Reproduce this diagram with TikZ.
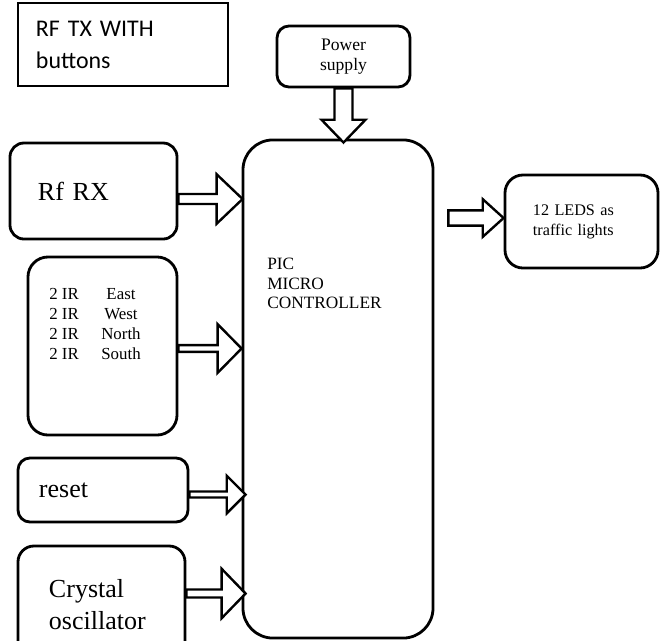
\documentclass[tikz,border=0pt]{standalone}
\usepackage{fontspec}
\setmainfont{Liberation Serif}
\newfontfamily\titlefont{Carlito}
\usetikzlibrary{calc}

\begin{document}
\begin{tikzpicture}[x=0.025cm, y=-0.025cm,
        box/.style={draw, rectangle, line width=2pt, rounded corners=#1},
        box/.default=0.35cm,
        block/.style n args={3}{draw, fill=white, line width=1.7pt, to path={
            let \p1=(\tikztostart), \p2=(\tikztotarget), \p3=($(\p2)!#3!(\p1)$) in
            ($(\p1)!#1!90:(\p2)$) -- ($(\p3)!#1!90:(\p2)$) -- ($(\p3)!#2!90:(\p2)$) -- (\p2)
            -- ($(\p3)!#2!-90:(\p2)$) -- ($(\p3)!#1!-90:(\p2)$) -- ($(\p1)!#1!-90:(\p2)$) -- cycle}}]
        \clip (0,0) rectangle (661,640);
        % Define the nodes for the blocks
        \node[draw, rectangle, line width=0.8pt, minimum width=5.25cm, minimum height=2.075cm,
              text width=4.35cm, align=left, font=\titlefont\fontsize{17pt}{22.8pt}\selectfont]
              (title) at (123,44.5) {RF TX WITH\\buttons};
        \node[box=0.3cm, minimum width=3.325cm, minimum height=1.525cm, align=center,
              font=\fontsize{12.5pt}{14.2pt}\selectfont] (power) at (343.5,56.5) {Power\\supply};
        \node[box=0.75cm, minimum width=4.75cm, minimum height=12.45cm] (ctrl) at (338,389) {};
        \node[anchor=north west, inner sep=0pt, align=left,
              font=\fontsize{12.3pt}{13.9pt}\selectfont] (ctrltext) at (267,258) {PIC\\MICRO\\CONTROLLER};
        \node[box, minimum width=4.175cm, minimum height=2.4cm, text width=2.775cm, align=left,
              font=\fontsize{18.5pt}{22pt}\selectfont] (rf) at (93.5,191) {Rf RX};
        \node[box=0.5cm, minimum width=3.725cm, minimum height=4.45cm] (ir) at (102.5,346) {};
        \node[anchor=north west, inner sep=0pt, font=\fontsize{12pt}{14.2pt}\selectfont]
              (irtext) at (49,285) {\begin{tabular}{@{}l@{\hspace{16pt}}c@{}}
              2 IR & East\\ 2 IR & West\\ 2 IR & North\\ 2 IR & South\end{tabular}};
        \node[box=0.3cm, minimum width=4.25cm, minimum height=1.6cm, text width=3.2cm, align=left,
              font=\fontsize{18.5pt}{22pt}\selectfont] (reset) at (103,490) {reset};
        \node[box=0.4cm, minimum width=4.175cm, minimum height=2.95cm, text width=2.625cm, align=left,
              font=\fontsize{18.5pt}{22.8pt}\selectfont] (xtal) at (101.5,605) {Crystal\\oscillator};
        \node[box=0.45cm, minimum width=3.825cm, minimum height=2.325cm, text width=2.425cm, align=left,
              font=\fontsize{11.5pt}{14.2pt}\selectfont] (led) at (581.5,221.5) {12 LEDS as\\traffic lights};
        % Connect the blocks with block arrows
        \draw[block={0.225cm}{0.55cm}{0.57cm}] (power.south) to ($(power.south |- ctrl.north)+(0,4)$);
        \draw[block={0.125cm}{0.62cm}{0.65cm}] ($(rf.east)+(0,8)$) to ($(ctrl.west |- rf.east)+(1,8)$);
        \draw[block={0.085cm}{0.61cm}{0.6cm}] ($(ir.east)+(0,2.5)$) to ($(ctrl.west |- ir.east)+(0,2.5)$);
        \draw[block={0.075cm}{0.47cm}{0.47cm}] ($(reset.east)+(0,4.5)$) to ($(ctrl.west |- reset.east)+(4,4.5)$);
        \draw[block={0.1cm}{0.62cm}{0.6cm}] ($(xtal.east)+(0,-11.5)$) to ($(ctrl.west |- xtal.east)+(4,-11.5)$);
        \draw[block={0.19cm}{0.47cm}{0.52cm}] ($(ctrl.east |- led.west)+(14,-3.5)$) to ($(led.west)+(0,-3.5)$);
    \end{tikzpicture}
\end{document}
